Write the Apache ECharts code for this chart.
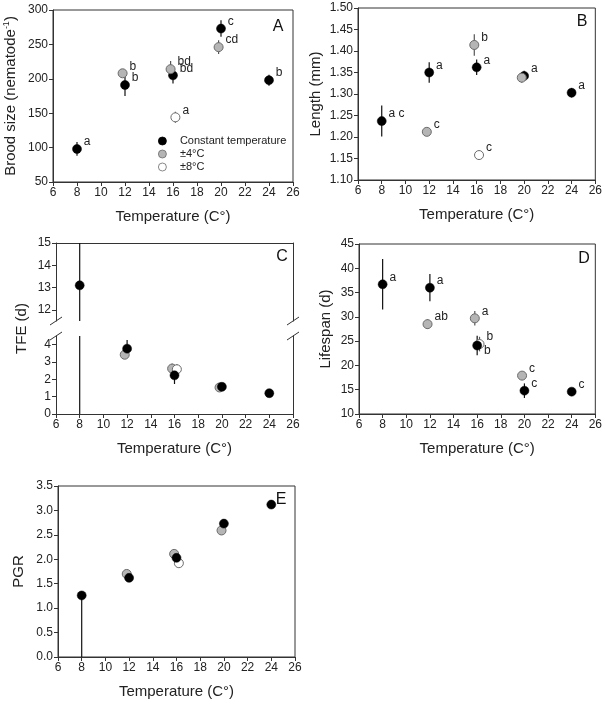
<!DOCTYPE html>
<html><head><meta charset="utf-8">
<script src="https://cdn.jsdelivr.net/npm/echarts@6/dist/echarts.min.js"></script>
<style>html,body{margin:0;padding:0;background:#fff}#c{width:605px;height:704px}</style>
</head><body><div id="c"></div>
<script>
// ---------------- DATA ----------------
const groupNames = ['Constant temperature', '±4°C', '±8°C'];
const tempsConst = [8, 12, 16, 20, 24];
const temps4 = [11.8, 15.8, 19.8];
const temps8 = [16.2];
const xTickValues = [6, 8, 10, 12, 14, 16, 18, 20, 22, 24, 26];

// A: brood size
const broodConst = [98, 191, 205, 273, 198];
const broodConstErr = [10, 16, 12, 12, 8];
const brood4 = [208, 214, 246];
const brood4Err = [4, 12, 10];
const brood8 = [144];
const brood8Err = [8];
const broodConstLetters = ['a', 'b', 'bd', 'c', 'b'];
const brood4Letters = ['b', 'bd', 'cd'];
const brood8Letters = ['a'];
const broodTicks = [50, 100, 150, 200, 250, 300];

// B: length
const lengthConst = [1.237, 1.350, 1.362, 1.342, 1.303];
const lengthConstErr = [0.036, 0.024, 0.018, 0.012, 0.011];
const length4 = [1.212, 1.414, 1.338];
const length4Err = [0.008, 0.025, 0.012];
const length8 = [1.158];
const length8Err = [0.01];
const lengthConstLetters = ['a c', 'a', 'a', 'a', 'a'];
const length4Letters = ['c', 'b', ''];
const length8Letters = ['c'];
const lengthTicks = [1.10, 1.15, 1.20, 1.25, 1.30, 1.35, 1.40, 1.45, 1.50];

// C: TFE (broken axis)
const tfeConst = [13.1, 3.77, 2.23, 1.57, 1.2];
const tfeConstErr = [14, 0.5, 0.5, 0.08, 0.05];
const tfe4 = [3.42, 2.62, 1.53];
const tfe4Err = [0.15, 0.3, 0.08];
const tfe8 = [2.58];
const tfe8Err = [0.3];
const tfeUpperTicks = [12, 13, 14, 15];
const tfeLowerTicks = [0, 1, 2, 3, 4];

// D: lifespan
const lifeConst = [36.7, 36.0, 24.1, 14.8, 14.6];
const lifeConstErr = [5.2, 2.8, 2.0, 1.5, 0.5];
const life4 = [28.5, 29.7, 17.9];
const life4Err = [1.0, 1.5, 0.5];
const life8 = [24.4];
const life8Err = [1.5];
const lifeConstLetters = ['a', 'a', 'b', 'c', 'c'];
const life4Letters = ['ab', 'a', 'c'];
const life8Letters = ['b'];
const lifeTicks = [10, 15, 20, 25, 30, 35, 40, 45];

// E: PGR
const pgrConst = [1.26, 1.62, 2.03, 2.73, 3.12];
const pgrConstErrLow = [1.26, 0.03, 0.03, 0.03, 0.03];
const pgrConstErrHigh = [0, 0.03, 0.03, 0.03, 0.03];
const pgr4 = [1.70, 2.11, 2.59];
const pgr4Err = [0.03, 0.03, 0.03];
const pgr8 = [1.92];
const pgr8Err = [0.03];
const pgrTicks = [0, 0.5, 1.0, 1.5, 2.0, 2.5, 3.0, 3.5];

// ---------------- STYLE / LAYOUT ----------------
const FONT = '"Liberation Sans", Arial, sans-serif';
const AX = '#333';
const TXT = '#222';
const grids = [
  {left: 53, top: 10, width: 240, height: 172, show: true},   // A
  {left: 358, top: 8, width: 238, height: 172, show: true},   // B
  {left: 56, top: 243, width: 237, height: 78, show: false},  // C upper
  {left: 56, top: 336, width: 237, height: 78, show: false},  // C lower
  {left: 359, top: 244, width: 237, height: 170, show: true}, // D
  {left: 58, top: 486, width: 237, height: 171, show: true}   // E
].map(g => Object.assign({borderColor: AX, borderWidth: 1, backgroundColor: 'transparent'}, g));

const groupStyles = [
  {color: '#000', borderColor: '#000', borderWidth: 0.5, err: '#111'},
  {color: '#b5b5b5', borderColor: '#6b6b6b', borderWidth: 1, err: '#555'},
  {color: '#fff', borderColor: '#6b6b6b', borderWidth: 1, err: '#555'}
];

function xAxis(gi, opts) {
  return Object.assign({
    type: 'value', gridIndex: gi, min: 6, max: 26, interval: 2,
    axisLine: {show: true, onZero: false, lineStyle: {color: AX}},
    axisTick: {show: true, length: 4, lineStyle: {color: AX}},
    axisLabel: {fontSize: 12, color: TXT, fontFamily: FONT, margin: 5},
    splitLine: {show: false},
    name: 'Temperature (C°)', nameLocation: 'middle', nameGap: 27,
    nameTextStyle: {fontSize: 15, color: TXT, fontFamily: FONT}
  }, opts || {});
}
function yAxis(gi, ticks, name, gap, fmt, extra) {
  return Object.assign({
    type: 'value', gridIndex: gi, min: ticks[0], max: ticks[ticks.length - 1],
    axisLine: {show: true, onZero: false, lineStyle: {color: AX}},
    axisTick: {show: true, length: 4, lineStyle: {color: AX}, customValues: ticks},
    axisLabel: {fontSize: 12, color: TXT, fontFamily: FONT, margin: 5, customValues: ticks,
      formatter: fmt || (v => String(v))},
    splitLine: {show: false},
    name: name, nameLocation: 'middle', nameGap: gap,
    nameTextStyle: {fontSize: 15, color: TXT, fontFamily: FONT,
      rich: {sup: {fontSize: 9, fontFamily: FONT, color: TXT, padding: [0, 0, 9, 0]}}}
  }, extra || {});
}

const xAxes = [
  xAxis(0), xAxis(1),
  xAxis(2, {position: 'top', axisLabel: {show: false}, axisTick: {show: false}, name: ''}),
  xAxis(3), xAxis(4), xAxis(5)
];
const yAxes = [
  yAxis(0, broodTicks, 'Brood size (nematode{sup|-1})', 33),
  yAxis(1, lengthTicks, 'Length (mm)', 35, v => v.toFixed(2)),
  yAxis(2, tfeUpperTicks, '', 30, null, {min: 11.5, max: 15}),
  yAxis(3, tfeLowerTicks, '', 30, null, {min: 0, max: 4.5}),
  yAxis(4, lifeTicks, 'Lifespan (d)', 26),
  yAxis(5, pgrTicks, 'PGR', 32, v => v.toFixed(1)),
  // right edge lines for broken panel C
  {type: 'value', gridIndex: 2, position: 'right', min: 11.5, max: 15,
   axisLine: {show: true, onZero: false, lineStyle: {color: AX}}, axisTick: {show: false}, axisLabel: {show: false}, splitLine: {show: false}},
  {type: 'value', gridIndex: 3, position: 'right', min: 0, max: 4.5,
   axisLine: {show: true, onZero: false, lineStyle: {color: AX}}, axisTick: {show: false}, axisLabel: {show: false}, splitLine: {show: false}}
];

function errRender(color, width) {
  return function (params, api) {
    const cs = params.coordSys;
    const x = api.value(0);
    const lo = api.coord([x, api.value(2)]);
    const hi = api.coord([x, api.value(3)]);
    const top = cs.y, bot = cs.y + cs.height;
    const y1 = Math.max(top, Math.min(bot, hi[1]));
    const y2 = Math.max(top, Math.min(bot, lo[1]));
    if (Math.abs(y2 - y1) < 0.5) return null;
    return {type: 'line', silent: true,
      shape: {x1: lo[0], y1: y1, x2: lo[0], y2: y2},
      style: {stroke: color, lineWidth: width}};
  };
}

const series = [];
function addGroup(gi, g, xs, ys, errLow, errHigh, letters, labelOffsets, errColor) {
  const st = groupStyles[g];
  series.push({
    type: 'custom', xAxisIndex: gi, yAxisIndex: gi, z: 2,
    renderItem: errRender(errColor || st.err, 1.2),
    data: xs.map((x, i) => [x, ys[i], ys[i] - errLow[i], ys[i] + errHigh[i]])
  });
  series.push({
    type: 'scatter', name: groupNames[g], xAxisIndex: gi, yAxisIndex: gi, z: 3,
    symbol: 'circle', symbolSize: 9, clip: true,
    itemStyle: {color: st.color, borderColor: st.borderColor, borderWidth: st.borderWidth, opacity: 1},
    label: {show: !!letters, position: 'right', distance: 2, offset: [0, -7],
      fontSize: 12, color: TXT, fontFamily: FONT,
      formatter: p => letters ? letters[p.dataIndex] : ''},
    emphasis: {disabled: true},
    data: xs.map((x, i) => {
      const item = {value: [x, ys[i]]};
      if (labelOffsets && labelOffsets[i]) item.label = {offset: labelOffsets[i]};
      return item;
    })
  });
}

// A
addGroup(0, 0, tempsConst, broodConst, broodConstErr, broodConstErr, broodConstLetters);
addGroup(0, 1, temps4, brood4, brood4Err, brood4Err, brood4Letters);
addGroup(0, 2, temps8, brood8, brood8Err, brood8Err, brood8Letters);
// B
addGroup(1, 0, tempsConst, lengthConst, lengthConstErr, lengthConstErr, lengthConstLetters);
addGroup(1, 1, temps4, length4, length4Err, length4Err, length4Letters);
addGroup(1, 2, temps8, length8, length8Err, length8Err, length8Letters);
// C upper & lower
[2, 3].forEach(gi => {
  addGroup(gi, 1, temps4, tfe4, tfe4Err, tfe4Err, null);
  addGroup(gi, 2, temps8, tfe8, tfe8Err, tfe8Err, null);
  addGroup(gi, 0, tempsConst, tfeConst, tfeConstErr, tfeConstErr, null);
});
// D
addGroup(4, 1, temps4, life4, life4Err, life4Err, life4Letters);
addGroup(4, 2, temps8, life8, life8Err, life8Err, life8Letters);
addGroup(4, 0, tempsConst, lifeConst, lifeConstErr, lifeConstErr, lifeConstLetters,
  [null, null, [0, 5], null, null]);
// E
addGroup(5, 1, temps4, pgr4, pgr4Err, pgr4Err, null);
addGroup(5, 2, temps8, pgr8, pgr8Err, pgr8Err, null);
addGroup(5, 0, tempsConst, pgrConst, pgrConstErrLow, pgrConstErrHigh, null);

// decorations: panel letters, C axis name, break marks
const gC1 = grids[2], gC2 = grids[3];
const breakY = [gC1.top + gC1.height, gC2.top];
const breakX = [gC1.left, gC1.left + gC1.width];
const graphics = [];
[['A', 278, 27], ['B', 582, 22], ['C', 282, 257], ['D', 584, 259], ['E', 281, 500]].forEach(p => {
  graphics.push({type: 'text', x: p[1], y: p[2], silent: true,
    style: {text: p[0], font: '16px ' + FONT, fill: '#111', align: 'center', verticalAlign: 'middle'}});
});
graphics.push({type: 'text', x: 22, y: (gC1.top + gC2.top + gC2.height) / 2, rotation: Math.PI / 2, silent: true,
  style: {text: 'TFE (d)', font: '15px ' + FONT, fill: TXT, align: 'center', verticalAlign: 'middle'}});
breakX.forEach(bx => breakY.forEach(by => {
  graphics.push({type: 'line', silent: true, shape: {x1: bx - 6, y1: by + 4, x2: bx + 6, y2: by - 4},
    style: {stroke: AX, lineWidth: 1}});
}));

const option = {
  animation: false,
  backgroundColor: '#fff',
  textStyle: {fontFamily: FONT},
  grid: grids,
  xAxis: xAxes,
  yAxis: yAxes,
  legend: {
    data: groupNames, orient: 'vertical', left: 158, top: 135, padding: 0,
    itemWidth: 25, itemHeight: 8, itemGap: 1, icon: 'circle',
    itemStyle: {borderWidth: 0.8},
    textStyle: {fontSize: 11, color: TXT, fontFamily: FONT, lineHeight: 12},
    selectedMode: false
  },
  graphic: graphics,
  series: series
};
const chart = echarts.init(document.getElementById('c'), null, {renderer: 'canvas'});
chart.setOption(option);
</script>
</body></html>
